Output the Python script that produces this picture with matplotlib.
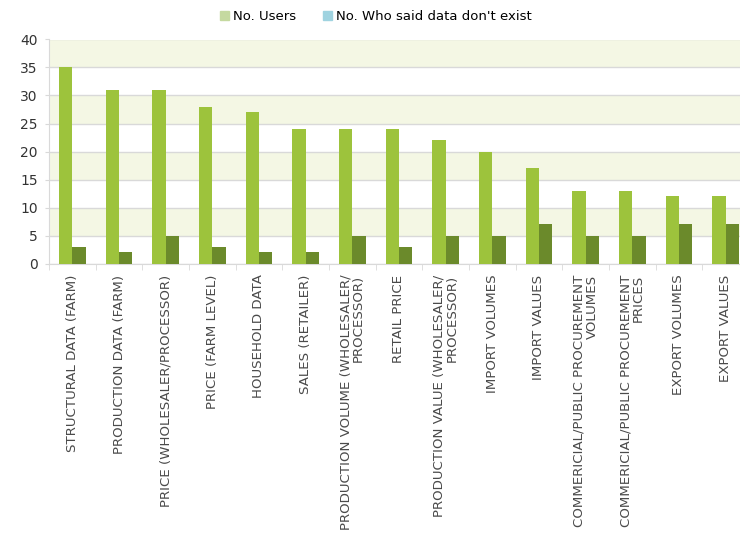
import numpy as np
import matplotlib
matplotlib.use("Agg")
import matplotlib.pyplot as plt
from matplotlib.patches import Patch

categories = [
    "STRUCTURAL DATA (FARM)",
    "PRODUCTION DATA (FARM)",
    "PRICE (WHOLESALER/PROCESSOR)",
    "PRICE (FARM LEVEL)",
    "HOUSEHOLD DATA",
    "SALES (RETAILER)",
    "PRODUCTION VOLUME (WHOLESALER/\nPROCESSOR)",
    "RETAIL PRICE",
    "PRODUCTION VALUE (WHOLESALER/\nPROCESSOR)",
    "IMPORT VOLUMES",
    "IMPORT VALUES",
    "COMMERICIAL/PUBLIC PROCUREMENT\nVOLUMES",
    "COMMERICIAL/PUBLIC PROCUREMENT\nPRICES",
    "EXPORT VOLUMES",
    "EXPORT VALUES",
]
users = [35, 31, 31, 28, 27, 24, 24, 24, 22, 20, 17, 13, 13, 12, 12]
dont_exist = [3, 2, 5, 3, 2, 2, 5, 3, 5, 5, 7, 5, 5, 7, 7]

light_green = "#9dc33c"
dark_green = "#6b8a2b"
grid_col = "#d9d9d9"
band_col = "#f4f7e4"

fig = plt.figure(figsize=(7.40, 5.39), dpi=100)
ax = fig.add_axes([49 / 740, 1 - 263.5 / 539, 700 / 740, 224 / 539])

x = np.arange(len(categories))
w = 0.286
ax.bar(x - w / 2, users, w, color=light_green, zorder=3)
ax.bar(x + w / 2, dont_exist, w, color=dark_green, zorder=3)

# alternating background bands
for lo in range(5, 40, 10):
    ax.axhspan(lo, lo + 5, facecolor=band_col, zorder=0, lw=0)

ax.set_xlim(-0.5, len(categories) - 0.5)
ax.set_ylim(0, 40)
ax.set_yticks(range(0, 41, 5))
ax.yaxis.grid(True, color=grid_col, lw=1, zorder=1)
ax.tick_params(axis="y", length=3, color=grid_col, labelsize=10,
               labelcolor="#333333", pad=5)

ax.set_xticks(x)
ax.set_xticklabels(categories, rotation=90, ha="center", va="top",
                   multialignment="right", fontsize=9.6, color="#4a4a4a",
                   linespacing=0.95)
ax.tick_params(axis="x", length=0, pad=8)
ax.set_xticks(np.arange(-0.5, len(categories), 1), minor=True)
ax.tick_params(axis="x", which="minor", length=4, color=grid_col)

for s in ["top", "right"]:
    ax.spines[s].set_visible(False)
ax.spines["left"].set_color(grid_col)
ax.spines["bottom"].set_color(grid_col)

handles = [Patch(color="#c5d9a0", label="No. Users"),
           Patch(color="#9fd3e0", label="No. Who said data don't exist")]
fig.legend(handles=handles, loc="center", bbox_to_anchor=(0.508, 0.969),
           ncol=2, frameon=False, fontsize=9.5, handlelength=0.7,
           handleheight=0.7, handletextpad=0.3, columnspacing=2.0)

fig.savefig("out.png", dpi=100)
